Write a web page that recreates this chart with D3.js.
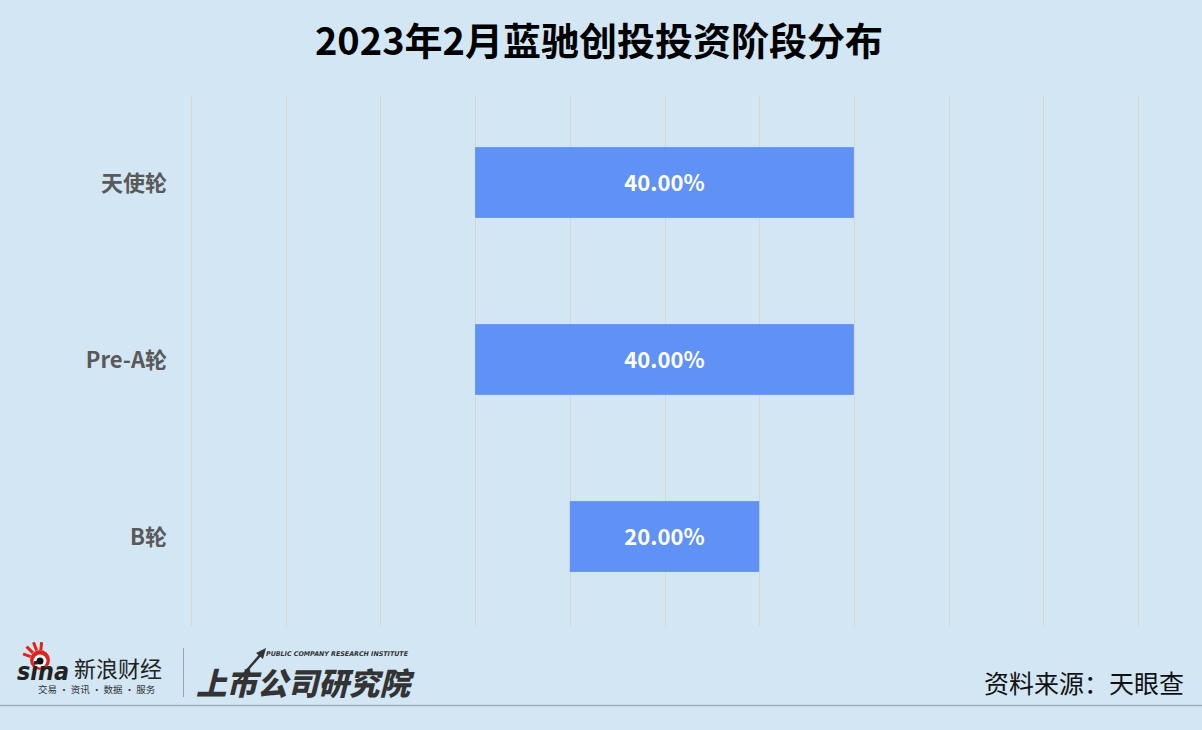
<!DOCTYPE html>
<html><head><meta charset="utf-8">
<script src="https://cdn.jsdelivr.net/npm/d3@7"></script>
<style>html,body{margin:0;padding:0;background:#D2E6F4;}svg{display:block;}</style>
</head><body>
<svg id="c" width="1202" height="730"></svg>
<script>
const title = "2023年2月蓝驰创投投资阶段分布";
const categories = ["天使轮", "Pre-A轮", "B轮"];
const values = [0.40, 0.40, 0.20];
const gridTicks = [-0.5,-0.4,-0.3,-0.2,-0.1,0,0.1,0.2,0.3,0.4,0.5];
const source = "资料来源：天眼查";

const W = 1202, H = 730;
const svg = d3.select("#c");
const font = "'Noto Sans CJK SC','Noto Sans',sans-serif";
svg.append("rect").attr("width", W).attr("height", H).attr("fill", "#D2E6F4");

const x = d3.scaleLinear().domain([-0.5, 0.5]).range([191, 1138]);
const y = d3.scaleBand().domain(categories).range([95, 626]).paddingInner(0.6).paddingOuter(0.3);

// title
svg.append("text").attr("x", 599).attr("y", 55).attr("text-anchor", "middle")
  .attr("font-family", font).attr("font-weight", 700).attr("font-size", 38).attr("fill", "#000")
  .text(title);

// gridlines
svg.append("g").selectAll("line").data(gridTicks).join("line")
  .attr("x1", d => Math.round(x(d)) + 0.5).attr("x2", d => Math.round(x(d)) + 0.5)
  .attr("y1", 95).attr("y2", 626).attr("stroke", "#D6D6D6").attr("stroke-width", 1);

// bars centered
svg.append("g").selectAll("rect").data(values).join("rect")
  .attr("x", d => x(-d / 2)).attr("width", d => x(d / 2) - x(-d / 2))
  .attr("y", (d, i) => y(categories[i]) - 1).attr("height", y.bandwidth())
  .attr("fill", "#6092F6");

// value labels
svg.append("g").selectAll("text").data(values).join("text")
  .attr("x", x(0)).attr("y", (d, i) => y(categories[i]) + y.bandwidth() / 2)
  .attr("dy", "0.36em").attr("text-anchor", "middle")
  .attr("font-family", font).attr("font-weight", 700).attr("font-size", 22).attr("fill", "#fff")
  .text(d => d3.format(".2%")(d));

// category labels
svg.append("g").selectAll("text").data(categories).join("text")
  .attr("x", 167).attr("y", d => y(d) + y.bandwidth() / 2).attr("dy", "0.36em")
  .attr("text-anchor", "end").attr("font-family", font).attr("font-weight", 700)
  .attr("font-size", 22).attr("fill", "#595959").text(d => d);

// source
svg.append("text").attr("x", 1184).attr("y", 693).attr("text-anchor", "end")
  .attr("font-family", font).attr("font-size", 25).attr("fill", "#111").text(source);

// footer line
svg.append("line").attr("x1", 0).attr("x2", W).attr("y1", 705.5).attr("y2", 705.5)
  .attr("stroke", "#A4ACB8").attr("stroke-width", 1.5);

// sina logo
const lg = svg.append("g");
lg.append("circle").attr("cx", 40).attr("cy", 660).attr("r", 10).attr("fill", "#E2231A");
lg.append("circle").attr("cx", 40).attr("cy", 661).attr("r", 6.5).attr("fill", "#fff");
lg.append("circle").attr("cx", 40).attr("cy", 661).attr("r", 3.5).attr("fill", "#111");
[[-70,8],[-45,9],[-20,9],[5,8]].forEach(([a,l]) => {
  const r = a * Math.PI / 180;
  lg.append("line").attr("x1", 40 + 10*Math.sin(r)).attr("y1", 660 - 10*Math.cos(r))
    .attr("x2", 40 + (10+l)*Math.sin(r)).attr("y2", 660 - (10+l)*Math.cos(r))
    .attr("stroke", "#E2231A").attr("stroke-width", 3);
});
lg.append("text").attr("x", 17).attr("y", 680).attr("font-family", "'DejaVu Sans',sans-serif")
  .attr("font-weight", 700).attr("font-style", "italic").attr("font-size", 24).attr("fill", "#222")
  .attr("textLength", 52).attr("lengthAdjust", "spacingAndGlyphs").text("sina");
lg.append("text").attr("x", 74).attr("y", 677).attr("font-family", font)
  .attr("font-size", 22).attr("fill", "#222").text("新浪财经");
lg.append("text").attr("x", 38).attr("y", 693).attr("font-family", font)
  .attr("font-size", 9.5).attr("fill", "#333").text("交易 · 资讯 · 数据 · 服务");
lg.append("line").attr("x1", 183.5).attr("x2", 183.5).attr("y1", 648).attr("y2", 697)
  .attr("stroke", "#9AA2AE").attr("stroke-width", 1);
lg.append("text").attr("x", 196).attr("y", 695).attr("font-family", font)
  .attr("font-weight", 900).attr("font-size", 31).attr("font-style", "italic").attr("fill", "#333")
  .attr("textLength", 214).attr("lengthAdjust", "spacingAndGlyphs").text("上市公司研究院");
lg.append("text").attr("x", 266).attr("y", 656).attr("font-family", "'DejaVu Sans',sans-serif")
  .attr("font-weight", 700).attr("font-style", "italic").attr("font-size", 6.5).attr("fill", "#333")
  .attr("textLength", 142).attr("lengthAdjust", "spacingAndGlyphs").text("PUBLIC COMPANY RESEARCH INSTITUTE");
lg.append("line").attr("x1", 236).attr("y1", 683).attr("x2", 262).attr("y2", 653)
  .attr("stroke", "#333").attr("stroke-width", 2.5);
lg.append("path").attr("d", "M266,648 L256,653 L263,659 Z").attr("fill", "#333");
</script>
</body></html>
